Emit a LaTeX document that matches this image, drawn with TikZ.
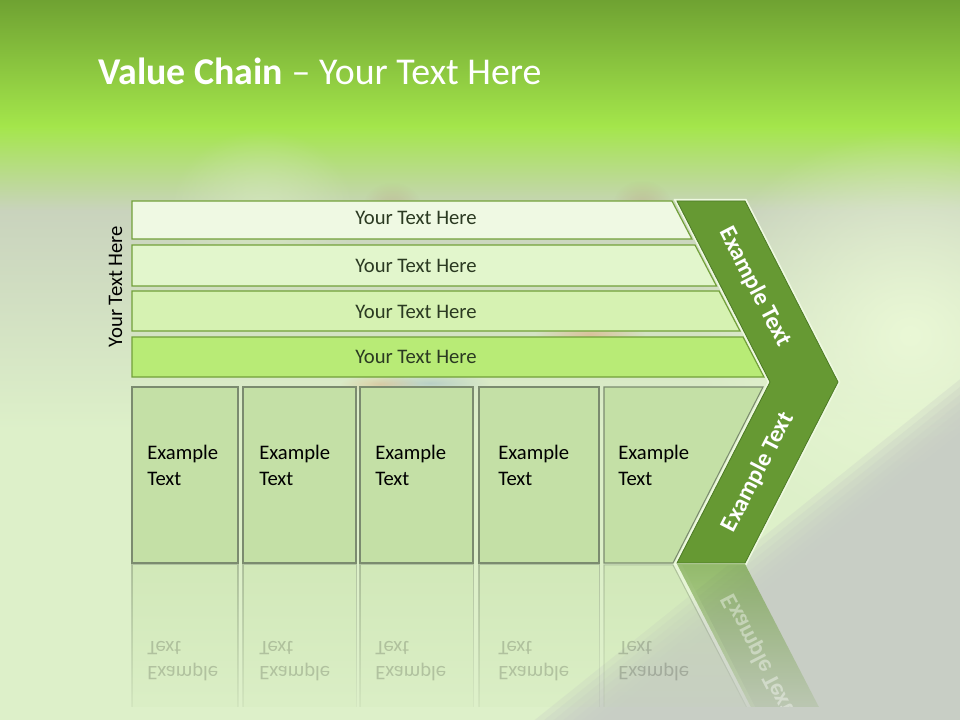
\documentclass[tikz,border=0pt]{standalone}
\usepackage{fontspec}
\setmainfont{Carlito}
\usetikzlibrary{fadings}
\definecolor{gtop}{HTML}{6FA232}
\definecolor{gband}{HTML}{A4E64B}
\definecolor{greyb}{HTML}{C9D3BD}
\definecolor{basec}{HTML}{DDF0C9}
\definecolor{litec}{HTML}{EAF8D6}
\definecolor{stripec}{HTML}{D8ECC0}
\definecolor{greyd}{HTML}{C8CEC5}
\definecolor{chev}{HTML}{669933}
\definecolor{chevline}{HTML}{4C7A25}
\definecolor{paleline}{HTML}{EEF9E0}
\definecolor{rowA}{HTML}{EFF9E3}
\definecolor{rowB}{HTML}{E2F6CC}
\definecolor{rowC}{HTML}{D6F2B2}
\definecolor{rowD}{HTML}{B8EB76}
\definecolor{rowline}{HTML}{72A03A}
\definecolor{boxc}{HTML}{C4E0A6}
\definecolor{boxline}{HTML}{7B8B6F}
\definecolor{rowtext}{HTML}{2B3A22}
\definecolor{blobA}{HTML}{B07050}
\definecolor{blobB}{HTML}{E09A68}
\definecolor{blobC}{HTML}{7FA0C8}
\tikzfading[name=softblob, inner color=transparent!0, outer color=transparent!100]
\tikzfading[name=reflfade, top color=transparent!55, bottom color=transparent!100]
\tikzfading[name=reflfadeB, top color=transparent!38, bottom color=transparent!100]
\begin{document}
\begin{tikzpicture}[x=0.75pt,y=-0.75pt,
  rowbox/.style={draw=rowline, line width=0.9pt},
  chainbox/.style={draw=boxline, fill=boxc, line width=0.8pt},
  rowlabel/.style={font=\fontsize{15.5}{18}\selectfont, text=rowtext, anchor=base, inner sep=0pt},
  boxlabel/.style={font=\fontsize{15.5}{19}\selectfont, align=left, anchor=base west, inner sep=0pt, text=black},
  chevlabel/.style={font=\bfseries\fontsize{18}{21}\selectfont, text=white, inner sep=0pt},
  refbox/.style={fill=boxc, draw=boxline, line width=0.8pt, path fading=reflfade},
  reftext/.style={font=\fontsize{15.5}{19}\selectfont, align=left, anchor=base west, inner sep=0pt, text=black, text opacity=0.18, yscale=-1},
]
\useasboundingbox (0,0) rectangle (960,720);
% ---------------- background ----------------
\begin{scope}
\clip (0,0) rectangle (960,720);
\fill[basec] (0,0) rectangle (960,720);
\shade[top color=greyb, bottom color=basec] (0,210) rectangle (960,430);
\shade[top color=gband, bottom color=greyb] (0,126) rectangle (960,211);
\fill[stripec, opacity=0.7, path fading=softblob] (262,215) ellipse [x radius=95, y radius=85];
\fill[litec, path fading=softblob] (910,335) ellipse [x radius=220, y radius=205];
\shade[top color=gtop, bottom color=gband] (0,0) rectangle (960,127);
\foreach \s in {-24,-18,...,24}
  \fill[greyd, opacity=0.3] ({1272.2+0.6252*\s},{159.9+0.7805*\s}) -- ({338.9+0.6252*\s},{907.6+0.7805*\s})
     -- ({1089.1+0.6252*\s},{1844.2+0.7805*\s}) -- ({2022.4+0.6252*\s},{1096.5+0.7805*\s}) -- cycle;
\fill[greyd] ({1272.2+0.6252*28},{159.9+0.7805*28}) -- ({338.9+0.6252*28},{907.6+0.7805*28})
     -- ({1089.1+0.6252*28},{1844.2+0.7805*28}) -- ({2022.4+0.6252*28},{1096.5+0.7805*28}) -- cycle;
% faint blurred photo remnants
\fill[blobA, opacity=0.22, path fading=softblob] (392,208) ellipse [x radius=30, y radius=26];
\fill[blobA, opacity=0.22, path fading=softblob] (642,206) ellipse [x radius=30, y radius=26];
\fill[blobB, opacity=0.45, path fading=softblob] (590,334) ellipse [x radius=55, y radius=12];
\fill[blobC, opacity=0.35, path fading=softblob] (430,383) ellipse [x radius=60, y radius=10];
\fill[blobB, opacity=0.35, path fading=softblob] (380,384) ellipse [x radius=40, y radius=9];
\end{scope}
% ---------------- rows ----------------
\filldraw[rowbox, fill=rowA] (132,201) -- (672,201) -- (691.9,239) -- (132,239) -- cycle;
\filldraw[rowbox, fill=rowB] (132,245) -- (695.0,245) -- (716.5,286) -- (132,286) -- cycle;
\filldraw[rowbox, fill=rowC] (132,291) -- (719.1,291) -- (740.0,331) -- (132,331) -- cycle;
\filldraw[rowbox, fill=rowD] (132,337) -- (743.1,337) -- (764.0,377) -- (132,377) -- cycle;
\node[rowlabel] (r1) at (416,225) {Your Text Here};
\node[rowlabel] (r2) at (416,272.5) {Your Text Here};
\node[rowlabel] (r3) at (416,318) {Your Text Here};
\node[rowlabel] (r4) at (416,363) {Your Text Here};
\node[rotate=90, anchor=base, inner sep=0pt, font=\fontsize{15.5}{18}\selectfont, text=black] (side) at (122,286.5) {Your Text Here};
% ---------------- boxes ----------------
\filldraw[chainbox] (132,387) rectangle (238,563);
\filldraw[chainbox] (243,387) rectangle (356,563);
\filldraw[chainbox] (360,387) rectangle (473,563);
\filldraw[chainbox] (479,387) rectangle (599,563);
\filldraw[chainbox] (604,387) -- (763,387) -- (673,563) -- (604,563) -- cycle;
\node[boxlabel] (b1) at (147,485) {Example\\Text};
\node[boxlabel] (b2) at (259,485) {Example\\Text};
\node[boxlabel] (b3) at (375,485) {Example\\Text};
\node[boxlabel] (b4) at (498,485) {Example\\Text};
\node[boxlabel] (b5) at (618,485) {Example\\Text};
% ---------------- chevron ----------------
\draw[paleline, line width=3.2pt, line join=miter] (677,201) -- (745,201) -- (838,382) -- (745,563) -- (677,563) -- (770,382) -- cycle;
\filldraw[fill=chev, draw=chevline, line width=0.6pt, line join=miter] (677,201) -- (745,201) -- (838,382) -- (745,563) -- (677,563) -- (770,382) -- cycle;
\node[chevlabel, rotate=-62.7] (c1) at (755,287) {Example Text};
\node[chevlabel, rotate=62.7] (c2) at (758,472) {Example Text};
% ---------------- reflections ----------------
\begin{scope}
\clip (0,564) rectangle (960,706);
\filldraw[refbox] (132,565) rectangle (238,739);
\filldraw[refbox] (243,565) rectangle (356,739);
\filldraw[refbox] (360,565) rectangle (473,739);
\filldraw[refbox] (479,565) rectangle (599,739);
\filldraw[refbox] (604,565) -- (673,565) -- (763,739) -- (604,739) -- cycle;
\fill[paleline, path fading=reflfadeB] (673,563) -- (681,563) -- (774,744) -- (766,744) -- cycle;
\fill[chev, path fading=reflfadeB] (677,564) -- (745,564) -- (838,744) -- (770,744) -- cycle;
\node[reftext] (rb1) at (147,641) {Example\\Text};
\node[reftext] (rb2) at (259,641) {Example\\Text};
\node[reftext] (rb3) at (375,641) {Example\\Text};
\node[reftext] (rb4) at (498,641) {Example\\Text};
\node[reftext] (rb5) at (618,641) {Example\\Text};
\node[chevlabel, rotate=-62.7, yscale=-1, text opacity=0.4] (rc2) at (758,654) {Example Text};
\end{scope}
% ---------------- title ----------------
\node[anchor=base west, inner sep=0pt, text=white, font=\fontsize{28.4}{34}\selectfont] (title) at (98,85) {\textbf{Value Chain} – Your Text Here};
\end{tikzpicture}
\end{document}
